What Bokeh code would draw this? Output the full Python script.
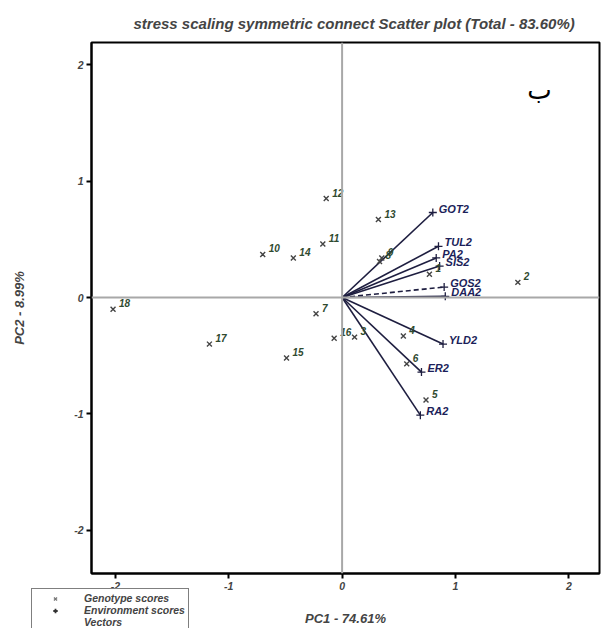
from bokeh.plotting import figure
from bokeh.layouts import column
from bokeh.models import Span, Label, Legend, LegendItem, ColumnDataSource
from bokeh.core.properties import value
from bokeh.embed import file_html
from bokeh.resources import INLINE

# ---- data ----
gen_ids = ["1", "2", "3", "4", "5", "6", "7", "8", "9", "10", "11", "12", "13", "14", "15", "16", "17", "18"]
gen_pc1 = [0.77, 1.55, 0.11, 0.54, 0.74, 0.57, -0.23, 0.33, 0.35, -0.70, -0.17, -0.14, 0.32, -0.43, -0.49, -0.07, -1.17, -2.02]
gen_pc2 = [0.20, 0.13, -0.34, -0.33, -0.88, -0.57, -0.14, 0.31, 0.34, 0.37, 0.46, 0.85, 0.67, 0.34, -0.52, -0.35, -0.40, -0.10]

vec_names = ["GOT2", "TUL2", "PA2", "SIS2", "GOS2", "DAA2", "YLD2", "ER2", "RA2"]
vec_pc1 = [0.80, 0.85, 0.83, 0.86, 0.90, 0.91, 0.89, 0.70, 0.69]
vec_pc2 = [0.73, 0.44, 0.34, 0.27, 0.09, 0.01, -0.40, -0.64, -1.01]
dashed_vectors = ["GOS2"]

x_ticks = [-2, -1, 0, 1, 2]
x_tick_labels = ["-2", "-1", "0", "1", "2"]
y_ticks = [-2, -1, 0, 1, 2]
y_tick_labels = ["-2", "-1", "0", "1", "2"]

legend_labels = ["Genotype scores", "Environment scores", "Vectors"]
title_text = "stress scaling symmetric connect Scatter plot (Total - 83.60%)"
x_label = "PC1 - 74.61%"
y_label = "PC2 - 8.99%"
corner_letter = "ب"

FONT = "Liberation Sans"
VEC_COLOR = "#1e1e40"
VEC_LABEL = "#1c1f5a"
GEN_LABEL = "#2f4a2f"
GEN_MARK = "#444444"

BORDER_L, BORDER_R = 91, 2

p = figure(width=601, height=628, output_backend="svg", toolbar_location=None,
           x_range=(-2.21, 2.27), y_range=(-2.37, 2.19),
           min_border_left=BORDER_L, min_border_right=BORDER_R, min_border_top=42, min_border_bottom=55,
           title=title_text)

p.title.text_font = FONT
p.title.text_font_style = "bold italic"
p.title.text_font_size = "15px"
p.title.align = "left"
p.title.offset = 42
p.title.standoff = 21

p.grid.visible = False
p.outline_line_color = "black"
p.outline_line_width = 2
p.background_fill_color = "white"
p.border_fill_color = "white"

for ax in (p.xaxis[0], p.yaxis[0]):
    ax.axis_line_width = 2
    ax.axis_line_color = "black"
    ax.major_tick_line_width = 2
    ax.major_tick_line_color = "black"
    ax.major_tick_out = 5
    ax.major_tick_in = 0
    ax.minor_tick_line_color = None
    ax.major_label_text_font = FONT
    ax.major_label_text_font_style = "bold italic"
    ax.major_label_text_font_size = "10.5px"
    ax.major_label_standoff = 3
    ax.axis_label_text_font = FONT
    ax.axis_label_text_font_style = "bold italic"
    ax.axis_label_text_font_size = "13px"

p.xaxis.ticker = x_ticks
p.yaxis.ticker = y_ticks
p.xaxis.major_label_overrides = {t: s for t, s in zip(x_ticks, x_tick_labels)}
p.yaxis.major_label_overrides = {t: s for t, s in zip(y_ticks, y_tick_labels)}
p.xaxis.axis_label = x_label
p.yaxis.axis_label = y_label
p.xaxis.axis_label_standoff = 18
p.yaxis.axis_label_standoff = 44

# centre lines
p.add_layout(Span(location=0, dimension="width", line_color="#a8a8a8", line_width=2))
p.add_layout(Span(location=0, dimension="height", line_color="#a8a8a8", line_width=2))

# vectors
solid_idx = [i for i, n in enumerate(vec_names) if n not in dashed_vectors]
dash_idx = [i for i, n in enumerate(vec_names) if n in dashed_vectors]
solid_src = ColumnDataSource(dict(x0=[0] * len(solid_idx), y0=[0] * len(solid_idx),
                                  x1=[vec_pc1[i] for i in solid_idx], y1=[vec_pc2[i] for i in solid_idx]))
dash_src = ColumnDataSource(dict(x0=[0] * len(dash_idx), y0=[0] * len(dash_idx),
                                 x1=[vec_pc1[i] for i in dash_idx], y1=[vec_pc2[i] for i in dash_idx]))
p.segment("x0", "y0", "x1", "y1", source=solid_src, line_color=VEC_COLOR, line_width=1.6)
p.segment("x0", "y0", "x1", "y1", source=dash_src, line_color=VEC_COLOR, line_width=1.6, line_dash="5 3")

vsrc = ColumnDataSource(dict(x=vec_pc1, y=vec_pc2, name=vec_names))
p.scatter("x", "y", source=vsrc, marker="cross", size=8, line_color=VEC_COLOR, line_width=1.3)
p.text("x", "y", text="name", source=vsrc, text_font=value(FONT), text_font_style="bold italic",
       text_font_size="11px", text_color=VEC_LABEL, text_baseline="middle", text_align="left",
       x_offset=6, y_offset=-4)

# genotypes
gsrc = ColumnDataSource(dict(x=gen_pc1, y=gen_pc2, name=gen_ids))
p.scatter("x", "y", source=gsrc, marker="x", size=7, line_color=GEN_MARK, line_width=1.4)
p.text("x", "y", text="name", source=gsrc, text_font=value(FONT), text_font_style="bold italic",
       text_font_size="10px", text_color=GEN_LABEL, text_baseline="middle", text_align="left",
       x_offset=6, y_offset=-6)

p.add_layout(Label(x=1.74, y=1.78, text=corner_letter, text_font="DejaVu Sans",
                   text_font_size="26px", text_color="black", text_align="center",
                   text_baseline="middle"))

# ---- legend box (small companion figure laid over the lower-left corner) ----
# the column aligns inner borders with the main plot, so give it the same borders
LEG_W, LEG_LEFT = 200, 30
lf = figure(width=LEG_W + BORDER_L + BORDER_R, height=41, output_backend="svg", toolbar_location=None,
            min_border_left=BORDER_L, min_border_right=BORDER_R, min_border_top=0, min_border_bottom=0,
            x_range=(0, 1), y_range=(0, 1), x_axis_type=None, y_axis_type=None)
lf.grid.visible = False
lf.outline_line_color = None
lf.background_fill_alpha = 0
lf.border_fill_alpha = 0
nan = float("nan")
lr_gen = lf.scatter([nan], [nan], marker="x", size=6, line_color="#777777", line_width=1.3)
lr_env = lf.scatter([nan], [nan], marker="cross", size=9, line_color="#333333", line_width=1.8)
lr_vec = lf.line([nan, nan], [nan, nan], line_color="white", line_width=1)
legend = Legend(items=[LegendItem(label=legend_labels[0], renderers=[lr_gen]),
                       LegendItem(label=legend_labels[1], renderers=[lr_env]),
                       LegendItem(label=legend_labels[2], renderers=[lr_vec])],
                location="top_left", orientation="vertical")
legend.label_text_font = FONT
legend.label_text_font_style = "bold italic"
legend.label_text_font_size = "10.5px"
legend.label_height = 11
legend.glyph_height = 11
legend.glyph_width = 40
legend.spacing = 0
legend.padding = 3
legend.margin = 1
legend.label_standoff = 9
legend.border_line_color = "black"
legend.border_line_width = 1.5
legend.background_fill_color = "white"
legend.background_fill_alpha = 1
lf.add_layout(legend, "center")
lf.styles = {"position": "absolute", "left": f"{LEG_LEFT - BORDER_L}px", "top": "587px"}

layout = column(p, lf)
open("out.html", "w").write(file_html(layout, INLINE))
